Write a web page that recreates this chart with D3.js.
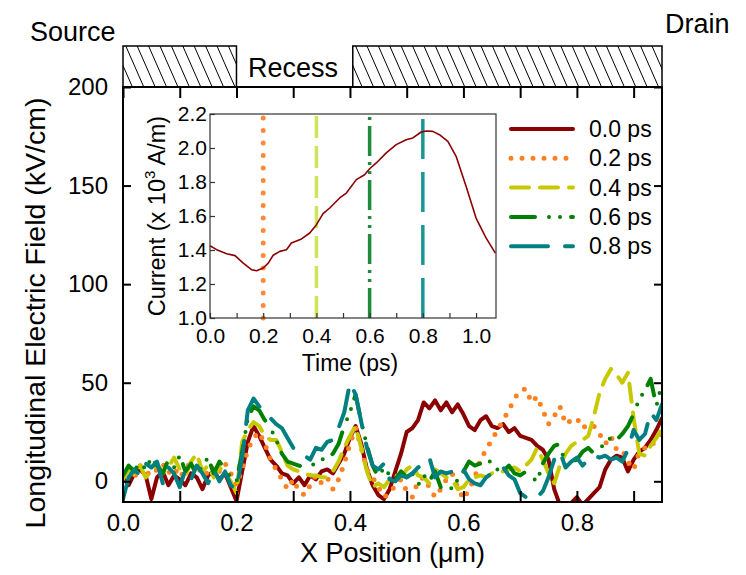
<!DOCTYPE html>
<html>
<head>
<meta charset="utf-8">
<script src="https://cdn.jsdelivr.net/npm/d3@7"></script>
<style>
  body { margin: 0; background: #fff; }
  svg { display: block; font-family: "Liberation Sans", Arial, Helvetica, sans-serif; }
</style>
</head>
<body>
<svg id="chart" width="746" height="575"></svg>
<script>
// Sampled positions along the channel (µm)
const positions = [
  0.00,0.01,0.02,0.03,0.04,0.05,0.06,0.07,0.08,0.09,
  0.10,0.11,0.12,0.13,0.14,0.15,0.16,0.17,0.18,0.19,
  0.20,0.21,0.22,0.23,0.24,0.25,0.26,0.27,0.28,0.29,
  0.30,0.31,0.32,0.33,0.34,0.35,0.36,0.37,0.38,0.39,
  0.40,0.41,0.42,0.43,0.44,0.45,0.46,0.47,0.48,0.49,
  0.50,0.51,0.52,0.53,0.54,0.55,0.56,0.57,0.58,0.59,
  0.60,0.61,0.62,0.63,0.64,0.65,0.66,0.67,0.68,0.69,
  0.70,0.71,0.72,0.73,0.74,0.75,0.76,0.77,0.78,0.79,
  0.80,0.81,0.82,0.83,0.84,0.85,0.86,0.87,0.88,0.89,
  0.90,0.91,0.92,0.93,0.94,0.95
];

// Longitudinal field (kV/cm) at each snapshot time
const field00ps = [
  2,-2,4,6,3,-9,2,5,-2,3,
  1,-2,4,2,-4,3,5,1,4,-3,
  -10,5,20,28,23,17,11,8,4,3,
  -1,2,-2,3,1,5,6,4,9,14,
  22,28,19,6,-2,-7,-9,-4,5,14,
  25,27,31,40,37,41,36,40,35,39,
  34,28,26,31,33,28,27,29,25,27,
  23,22,21,18,16,11,-4,-12,-14,-11,
  -8,-12,-9,-6,-3,6,11,13,12,5,
  11,15,17,21,26,32
];
const field02ps = [
  4,7,2,8,5,3,6,9,4,7,
  2,6,10,4,7,3,8,5,9,4,
  -2,6,16,22,25,19,11,6,1,-4,
  1,-5,-7,-2,3,-1,2,-4,1,9,
  19,27,17,6,2,-3,-8,-6,-2,1,
  -5,-8,0,2,-3,-8,-4,1,4,-3,
  -9,-4,2,11,16,21,26,31,36,42,
  46,47,40,43,36,29,33,38,29,31,
  32,27,29,28,24,19,23,16,16,10,
  6,15,17,17,22,25
];
const field04ps = [
  1,6,3,8,2,5,9,4,7,12,
  6,3,10,14,5,8,2,7,4,0,
  -6,20,26,30,28,23,21,21,15,8,
  6,5,4,3,3,2,2,5,10,17,
  23,28,17,5,-3,-1,-3,1,3,2,
  6,8,3,2,-1,6,4,2,1,-4,
  -3,1,2,3,2,4,5,5,6,7,
  5,8,11,17,11,4,-1,8,14,18,
  20,21,23,33,45,52,57,54,50,55,
  32,14,13,18,22,27
];
const field06ps = [
  3,8,5,10,6,12,8,4,11,7,
  13,5,9,3,8,12,4,10,6,2,
  0,15,32,38,36,31,27,21,14,10,
  9,8,7,8,9,11,12,14,19,28,
  35,44,30,18,8,2,7,3,1,5,
  2,4,-2,3,0,5,-3,-1,-4,1,
  5,10,8,9,12,9,6,5,8,4,
  3,5,2,0,9,14,18,19,8,10,
  11,15,17,14,16,20,22,21,24,28,
  34,42,46,52,38,50
];
const field08ps = [
  -9,2,6,3,9,7,10,-1,7,4,
  -3,6,1,8,4,-1,6,0,5,-2,
  -4,12,36,42,38,35,32,29,27,22,
  17,16,13,11,17,16,20,21,27,35,
  50,44,30,17,8,6,9,1,0,3,
  2,4,7,9,12,2,5,4,5,8,
  6,1,-1,-2,2,4,6,7,3,1,
  -6,-8,-7,-8,-5,2,11,15,7,10,
  12,8,11,13,12,13,11,12,10,16,
  26,21,24,35,31,39
];

const seriesLabels = ["0.0 ps", "0.2 ps", "0.4 ps", "0.6 ps", "0.8 ps"];
const seriesValues = [field00ps, field02ps, field04ps, field06ps, field08ps];

// Axis ticks
const xTickValues = [0, 0.1, 0.2, 0.3, 0.4, 0.5, 0.6, 0.7, 0.8, 0.9];
const xTickLabels = ["0.0", "", "0.2", "", "0.4", "", "0.6", "", "0.8", ""];
const yTickValues = [0, 50, 100, 150, 200];

// Device regions drawn above the plot (µm)
const contactSpans = [[0, 0.2], [0.405, 0.95]];

// Inset: terminal current versus time
const timePs = [
  0.0,0.025,0.0625,0.094,0.125,0.156,0.175,0.2,0.219,0.2375,
  0.2625,0.2875,0.306,0.344,0.375,0.4,0.425,0.45,0.4875,0.5125,
  0.55,0.581,0.6,0.625,0.6625,0.7,0.7375,0.7625,0.794,0.8125,
  0.8375,0.8625,0.894,0.925,0.9625,1.0,1.0375,1.0725
];
const currentKAm = [
  1.425,1.402,1.378,1.367,1.323,1.284,1.278,1.294,1.323,1.369,
  1.392,1.402,1.441,1.465,1.5,1.549,1.614,1.647,1.706,1.735,
  1.814,1.843,1.878,1.912,1.971,2.02,2.049,2.059,2.094,2.1,
  2.098,2.078,2.039,1.951,1.775,1.588,1.471,1.382
];
const snapshotTimes = [0.2, 0.4, 0.6, 0.8];
const insetXTicks = [0,0.1,0.2,0.3,0.4,0.5,0.6,0.7,0.8,0.9,1.0];
const insetXLabels = ["0.0","","0.2","","0.4","","0.6","","0.8","","1.0"];
const insetYTicks = [1.0,1.2,1.4,1.6,1.8,2.0,2.2];

// ---------- styles ----------
const seriesStyles = [
  { color: "#8b0000", dash: null },
  { color: "#ff8020", dash: "0 11" },
  { color: "#c8c800", dash: "18 11" },
  { color: "#008000", dash: "24 14 0 11 0 11" },
  { color: "#008080", dash: "37 17" }
];
const markerStyles = [
  { color: "#ff8a3d", dash: "0 12.5", width: 5, cap: "round" },
  { color: "#cfe55c", dash: "22 8", width: 3.5, cap: "butt" },
  { color: "#1e8c3a", dash: "30 6 3 6 3 6", width: 3.5, cap: "butt" },
  { color: "#1b9696", dash: "40 13", width: 3.5, cap: "butt" }
];

const svg = d3.select("#chart");
svg.append("rect").attr("width", 746).attr("height", 575).attr("fill", "#fff");

const plot = { left: 123, right: 662, top: 87, bottom: 502 };
const x = d3.scaleLinear().domain([0, 0.95]).range([plot.left, plot.right]);
const y = d3.scaleLinear().domain([-10.5, 200]).range([plot.bottom, plot.top]);

svg.append("clipPath").attr("id", "plotClip")
  .append("rect")
  .attr("x", plot.left).attr("y", plot.top)
  .attr("width", plot.right - plot.left).attr("height", plot.bottom - plot.top);

// ---------- field curves ----------
const line = d3.line().x(d => x(d[0])).y(d => y(d[1]));
const curves = svg.append("g").attr("clip-path", "url(#plotClip)");
seriesValues.forEach((vals, i) => {
  const pts = positions.map((p, k) => [p, vals[k]]);
  const st = seriesStyles[i];
  curves.append("path")
    .attr("d", line(pts))
    .attr("fill", "none")
    .attr("stroke", st.color)
    .attr("stroke-width", i === 1 ? 5 : 4)
    .attr("stroke-linecap", "round")
    .attr("stroke-linejoin", "round")
    .attr("stroke-dasharray", st.dash);
});

// ---------- main axes ----------
const fmtX = d => xTickLabels[xTickValues.indexOf(d)];
const axisB = svg.append("g").attr("transform", `translate(0,${plot.bottom})`)
  .call(d3.axisBottom(x).tickValues(xTickValues).tickFormat(fmtX)
    .tickSizeInner(-11).tickSizeOuter(0).tickPadding(12));
const axisT = svg.append("g").attr("transform", `translate(0,${plot.top})`)
  .call(d3.axisTop(x).tickValues(xTickValues).tickFormat("")
    .tickSizeInner(-11).tickSizeOuter(0));
const axisL = svg.append("g").attr("transform", `translate(${plot.left},0)`)
  .call(d3.axisLeft(y).tickValues(yTickValues).tickFormat(d3.format("d"))
    .tickSizeInner(-8).tickSizeOuter(0).tickPadding(15));
const axisR = svg.append("g").attr("transform", `translate(${plot.right},0)`)
  .call(d3.axisRight(y).tickValues(yTickValues).tickFormat("")
    .tickSizeInner(-8).tickSizeOuter(0));
[axisB, axisT, axisL, axisR].forEach(g => {
  g.select(".domain").remove();
  g.selectAll(".tick line").attr("stroke", "#000").attr("stroke-width", 2);
  g.selectAll("text").attr("font-size", 24).attr("fill", "#000")
    .attr("font-family", "'Liberation Sans', Arial, sans-serif");
});
svg.append("rect")
  .attr("x", plot.left).attr("y", plot.top)
  .attr("width", plot.right - plot.left).attr("height", plot.bottom - plot.top)
  .attr("fill", "none").attr("stroke", "#000").attr("stroke-width", 2);

svg.append("text")
  .attr("x", (plot.left + plot.right) / 2).attr("y", 562)
  .attr("text-anchor", "middle").attr("font-size", 27)
  .text("X Position (μm)");
svg.append("text")
  .attr("transform", "translate(45,313) rotate(-90)")
  .attr("text-anchor", "middle").attr("font-size", 28.5)
  .text("Longitudinal Electric Field (kV/cm)");

// ---------- device regions ----------
const hatchTop = 46, hatchH = plot.top - hatchTop;
const hatch = svg.append("g");
contactSpans.forEach((s, i) => {
  const x0 = x(s[0]), x1 = x(s[1]);
  const cid = "hatchClip" + i;
  svg.append("clipPath").attr("id", cid)
    .append("rect").attr("x", x0).attr("y", hatchTop).attr("width", x1 - x0).attr("height", hatchH);
  const gl = hatch.append("g").attr("clip-path", `url(#${cid})`);
  const starts = d3.range(x0 - 20, x1 + 2, 11.4);
  gl.selectAll("line").data(starts).join("line")
    .attr("x1", d => d).attr("y1", hatchTop)
    .attr("x2", d => d + 18).attr("y2", plot.top)
    .attr("stroke", "#000").attr("stroke-width", 1);
  hatch.append("rect").attr("x", x0).attr("y", hatchTop)
    .attr("width", x1 - x0).attr("height", hatchH)
    .attr("fill", "none").attr("stroke", "#000").attr("stroke-width", 1.5);
});
svg.append("text").attr("x", 30).attr("y", 41).attr("font-size", 27).text("Source");
svg.append("text").attr("x", 665).attr("y", 33).attr("font-size", 27).text("Drain");
svg.append("text").attr("x", 248).attr("y", 77).attr("font-size", 27).text("Recess");

// ---------- legend ----------
const legend = svg.append("g");
seriesLabels.forEach((lab, i) => {
  const ly = 129 + i * 29.3;
  const st = seriesStyles[i];
  legend.append("path")
    .attr("d", `M511,${ly}H573`)
    .attr("stroke", st.color).attr("stroke-width", i === 1 ? 5 : 4)
    .attr("stroke-linecap", "round").attr("fill", "none")
    .attr("stroke-dasharray", st.dash);
  legend.append("text").attr("x", 589).attr("y", ly).attr("dy", "0.35em")
    .attr("font-size", 23).text(lab);
});

// ---------- inset ----------
const inset = { left: 210, right: 496, top: 114, bottom: 318 };
const xi = d3.scaleLinear().domain([0, 1.075]).range([inset.left, inset.right]);
const yi = d3.scaleLinear().domain([1.0, 2.2]).range([inset.bottom, inset.top]);
const ig = svg.append("g");
ig.append("rect")
  .attr("x", inset.left).attr("y", inset.top)
  .attr("width", inset.right - inset.left).attr("height", inset.bottom - inset.top)
  .attr("fill", "#fff");

snapshotTimes.forEach((t, i) => {
  const ms = markerStyles[i];
  ig.append("path")
    .attr("d", `M${xi(t)},${yi(1.0)}V${yi(2.19)}`)
    .attr("stroke", ms.color).attr("stroke-width", ms.width)
    .attr("stroke-linecap", ms.cap).attr("stroke-dasharray", ms.dash)
    .attr("fill", "none");
});

const iline = d3.line().x((d, k) => xi(timePs[k])).y(d => yi(d));
ig.append("path").attr("d", iline(currentKAm))
  .attr("fill", "none").attr("stroke", "#8b0000").attr("stroke-width", 1.6)
  .attr("stroke-linejoin", "round");

const iB = ig.append("g").attr("transform", `translate(0,${inset.bottom})`)
  .call(d3.axisBottom(xi).tickValues(insetXTicks)
    .tickFormat(d => insetXLabels[insetXTicks.indexOf(d)])
    .tickSizeInner(-5).tickSizeOuter(0).tickPadding(10));
const iL = ig.append("g").attr("transform", `translate(${inset.left},0)`)
  .call(d3.axisLeft(yi).tickValues(insetYTicks).tickFormat(d3.format(".1f"))
    .tickSizeInner(-5).tickSizeOuter(0).tickPadding(3));
[iB, iL].forEach(g => {
  g.select(".domain").remove();
  g.selectAll(".tick line").attr("stroke", "#333").attr("stroke-width", 1.2);
  g.selectAll("text").attr("font-size", 21).attr("fill", "#000")
    .attr("font-family", "'Liberation Sans', Arial, sans-serif");
});
ig.append("rect")
  .attr("x", inset.left).attr("y", inset.top)
  .attr("width", inset.right - inset.left).attr("height", inset.bottom - inset.top)
  .attr("fill", "none").attr("stroke", "#333").attr("stroke-width", 1.2);

ig.append("text").attr("x", 350).attr("y", 371)
  .attr("text-anchor", "middle").attr("font-size", 23).text("Time (ps)");
const cur = ig.append("text")
  .attr("transform", "translate(165,216) rotate(-90)")
  .attr("text-anchor", "middle").attr("font-size", 23.5);
cur.append("tspan").text("Current (x 10");
cur.append("tspan").attr("font-size", 15).attr("dy", -10).text("3");
cur.append("tspan").attr("dy", 10).text(" A/m)");
</script>
</body>
</html>
